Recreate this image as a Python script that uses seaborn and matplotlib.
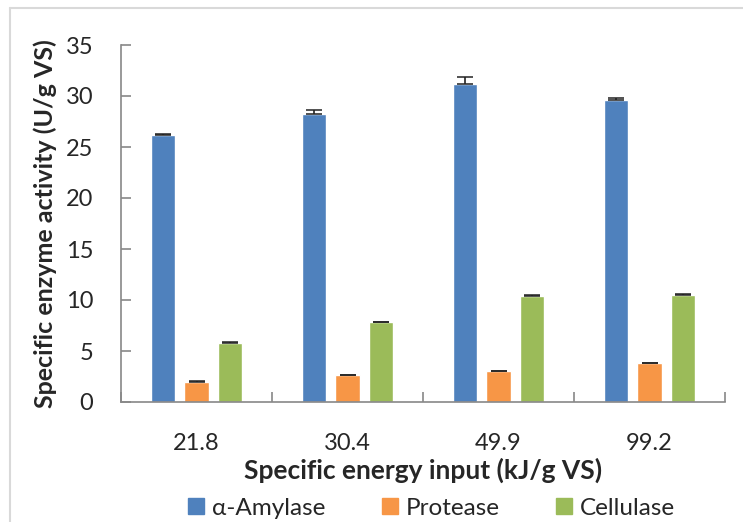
import numpy as np
import pandas as pd
import seaborn as sns
import matplotlib.pyplot as plt
from matplotlib.lines import Line2D

# data
energy = ["21.8", "30.4", "49.9", "99.2"]
enzymes = ["α-Amylase", "Protease", "Cellulase"]
amylase = [26.2, 28.2, 31.2, 29.6]
protease = [2.0, 2.6, 3.0, 3.8]
cellulase = [5.8, 7.8, 10.4, 10.5]
amylase_err = [0.1, 0.4, 0.7, 0.2]
protease_err = [0.05, 0.05, 0.05, 0.05]
cellulase_err = [0.05, 0.05, 0.05, 0.08]
colors = ["#4f81bd", "#f79646", "#9bbb59"]

df = pd.DataFrame({
    "energy": energy * 3,
    "enzyme": np.repeat(enzymes, 4),
    "activity": amylase + protease + cellulase,
    "err": amylase_err + protease_err + cellulase_err,
})

sns.set_style("white")
plt.rcParams["font.family"] = ["Lato", "DejaVu Sans"]

fig = plt.figure(figsize=(7.43, 5.22), dpi=100)
ax = fig.add_axes([121 / 743, 1 - 402 / 522, 604 / 743, 357 / 522])

sns.barplot(data=df, x="energy", y="activity", hue="enzyme", palette=colors,
            saturation=1, width=0.67, gap=0.28, errorbar=None, ax=ax, legend=False)

# error bars drawn on the bar centres that seaborn placed
for cont, enz in zip(ax.containers, enzymes):
    sub = df[df["enzyme"] == enz]
    xs = [b.get_x() + b.get_width() / 2 for b in cont]
    ax.errorbar(xs, sub["activity"], yerr=[np.zeros(len(sub)), sub["err"]],
                fmt="none", ecolor="#222222", elinewidth=1.2, capsize=6, capthick=1.1)

ax.set_ylim(0, 35)
ax.set_yticks(range(0, 36, 5))
ax.set_xlim(-0.5, 3.5)
ax.set_xticks(range(4))
ax.set_xticklabels(energy)
ax.set_xticks(np.arange(-0.5, 4, 1), minor=True)
ax.tick_params(axis="y", which="major", left=True, direction="in", length=7, width=1.2,
               color="#888888", labelsize=17, pad=20)
ax.tick_params(axis="x", which="major", bottom=False, length=0, labelsize=17, pad=22)
ax.tick_params(axis="x", which="minor", bottom=True, direction="in", length=7, width=1.2,
               color="#888888")
for s in ["top", "right"]:
    ax.spines[s].set_visible(False)
for s in ["left", "bottom"]:
    ax.spines[s].set_color("#888888")
    ax.spines[s].set_linewidth(1.2)

ax.set_xlabel("Specific energy input (kJ/g VS)", fontsize=19, fontweight="bold", labelpad=3)
ax.set_ylabel("Specific enzyme activity (U/g VS)", fontsize=18, fontweight="bold", labelpad=6)

handles = [Line2D([0], [0], marker="s", linestyle="", markersize=12,
                  markerfacecolor=c, markeredgecolor=c) for c in colors]
fig.legend(handles, enzymes, loc="center", bbox_to_anchor=(430 / 743, 1 - 508 / 522),
           ncol=3, frameon=False, fontsize=17.5, handletextpad=0.2,
           columnspacing=2.2, handlelength=0.9)

# chart-area frame, cut off at right and bottom
fig.add_artist(Line2D([10 / 743, 10 / 743], [0, 1 - 8 / 522], transform=fig.transFigure,
                      color="#d9d9d9", lw=1.5))
fig.add_artist(Line2D([10 / 743, 1], [1 - 8 / 522, 1 - 8 / 522], transform=fig.transFigure,
                      color="#d9d9d9", lw=1.5))

fig.savefig("out.png", dpi=100)
